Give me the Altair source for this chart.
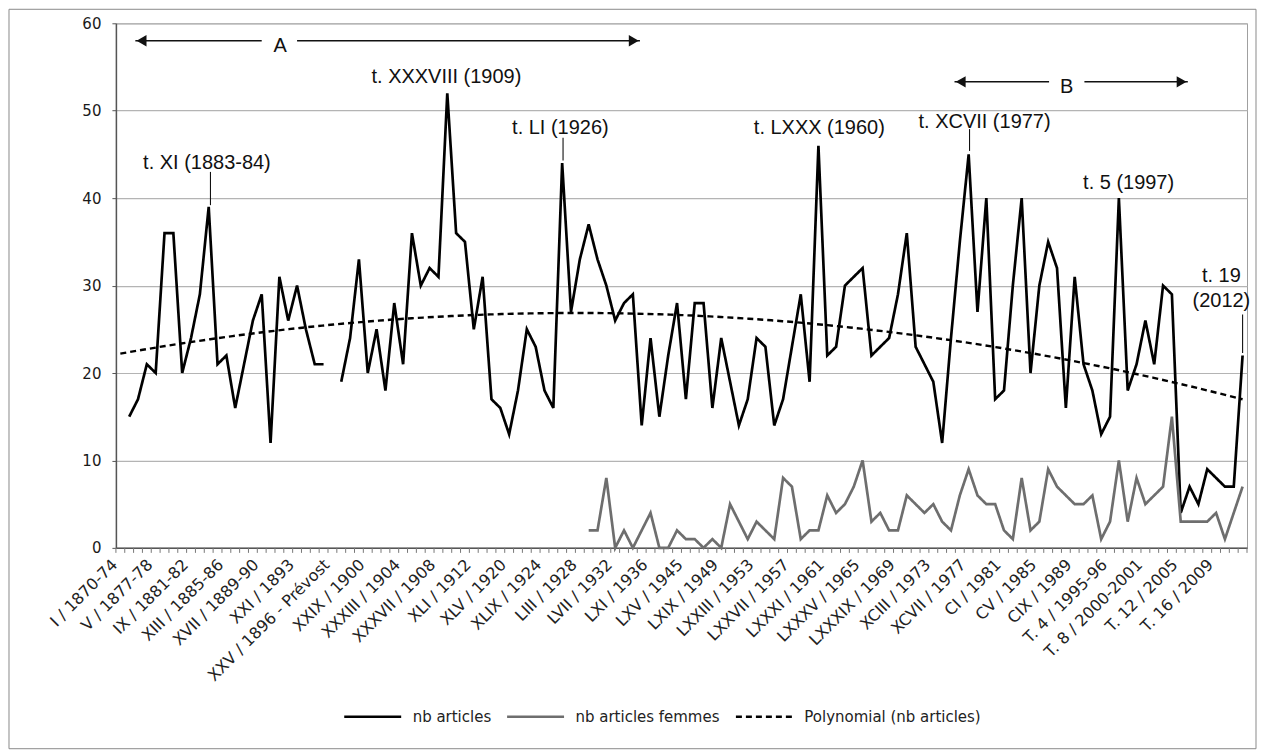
import json
import altair as alt
import pandas as pd

# ---------------- data ----------------
tick_labels = [
    "I / 1870-74", "V / 1877-78", "IX / 1881-82", "XIII / 1885-86", "XVII / 1889-90",
    "XXI / 1893", "XXV / 1896 - Prévost", "XXIX / 1900", "XXXIII / 1904", "XXXVII / 1908",
    "XLI / 1912", "XLV / 1920", "XLIX / 1924", "LIII / 1928", "LVII / 1932", "LXI / 1936",
    "LXV / 1945", "LXIX / 1949", "LXXIII / 1953", "LXXVII / 1957", "LXXXI / 1961",
    "LXXXV / 1965", "LXXXIX / 1969", "XCIII / 1973", "XCVII / 1977", "CI / 1981",
    "CV / 1985", "CIX / 1989", "T. 4 / 1995-96", "T. 8 / 2000-2001", "T. 12 / 2005",
    "T. 16 / 2009",
]

nb_articles = [
    None, 15, 17, 21, 20, 36, 36, 20, 24, 29, 39, 21, 22, 16, 21, 26, 29, 12, 31, 26, 30, 25, 21, 21,
    None, 19, 24, 33, 20, 25, 18, 28, 21, 36, 30, 32, 31, 52, 36, 35, 25, 31, 17, 16, 13, 18, 25, 23,
    18, 16, 44, 27, 33, 37, 33, 30, 26, 28, 29, 14, 24, 15, 22, 28, 17, 28, 28, 16, 24, 19, 14, 17,
    24, 23, 14, 17, 23, 29, 19, 46, 22, 23, 30, 31, 32, 22, 23, 24, 29, 36, 23, 21, 19, 12, 24, 35,
    45, 27, 40, 17, 18, 30, 40, 20, 30, 35, 32, 16, 31, 21, 18, 13, 15, 40, 18, 21, 26, 21, 30, 29,
    4, 7, 5, 9, 8, 7, 7, 22,
]

nb_femmes = [None] * 53 + [
    2, 2, 8, 0, 2, 0, 2, 4, 0, 0, 2, 1, 1, 0, 1, 0, 5, 3, 1, 3, 2, 1, 8, 7, 1, 2, 2, 6, 4, 5, 7,
    10, 3, 4, 2, 2, 6, 5, 4, 5, 3, 2, 6, 9, 6, 5, 5, 2, 1, 8, 2, 3, 9, 7, 6, 5, 5, 6, 1, 3, 10,
    3, 8, 5, 6, 7, 15, 3, 3, 3, 3, 4, 1, 4, 7,
]

series_names = ["nb articles", "nb articles femmes", "Polynomial (nb articles)"]
series_colors = ["#000000", "#6e6e6e", "#000000"]

ann_text = ["t. XI (1883-84)", "t. XXXVIII (1909)", "t. LI (1926)", "t. LXXX (1960)",
            "t. XCVII (1977)", "t. 5 (1997)", "t. 19", "(2012)"]
ann_x = [9.8, 36.9, 49.8, 79.1, 97.8, 114.1, 124.6, 124.6]
ann_y = [44.0, 53.9, 48.0, 48.0, 48.7, 41.7, 31.1, 28.2]

lead_x = [10.2, 50.1, 96.1, 127.0]
lead_y1 = [43.0, 46.9, 47.9, 26.7]
lead_y2 = [39.2, 44.3, 45.4, 22.3]

arrow_x1 = [1.7, 20.0, 94.4, 109.1]
arrow_x2 = [16.0, 58.8, 105.1, 120.8]
arrow_y = [58.0, 58.0, 53.3, 53.3]
head_x = [2.4, 58.1, 95.1, 120.1]
head_y = [58.0, 58.0, 53.3, 53.3]
head_dir = ["l", "r", "l", "r"]
letter_text = ["A", "B"]
letter_x = [18.1, 107.1]
letter_y = [57.4, 52.7]

# ---------------- frames ----------------
n = len(nb_articles)
rows = []
seg = 0
for i, v in enumerate(nb_articles):
    if v is None:
        seg += 1
    rows.append({"idx": i, "val": v, "series": series_names[0], "seg": f"a{seg}"})
for i, v in enumerate(nb_femmes):
    rows.append({"idx": i, "val": v, "series": series_names[1], "seg": "f"})
df = pd.DataFrame(rows)

W, H = 1132, 525
xs = alt.Scale(domain=[-0.5, n - 0.5], nice=False, zero=False)
ys = alt.Scale(domain=[0, 60], nice=False, zero=True)

label_expr = json.dumps(tick_labels, ensure_ascii=False) + "[round(datum.value / 4)]"
xaxis = alt.Axis(values=list(range(0, n, 4)), labelExpr=label_expr, labelAngle=-45,
                 labelAlign="right", labelBaseline="middle", labelPadding=14, labelOffset=-6,
                 ticks=False, grid=False, domain=True, domainColor="#555555", domainWidth=1.5,
                 labelFont="DejaVu Sans", labelFontSize=16, labelColor="#222222",
                 labelOverlap=False, labelFlush=False, labelLimit=400, title=None)
yaxis = alt.Axis(values=[0, 10, 20, 30, 40, 50, 60], grid=True, gridColor="#b4b4b4", gridWidth=1.2,
                 domain=True, domainColor="#555555", domainWidth=1.5, ticks=True, tickSize=4,
                 tickColor="#555555", labelFont="DejaVu Sans", labelFontSize=15,
                 labelColor="#1a1a1a", labelPadding=11, title=None)


def X(f):
    return alt.X(f, type="quantitative", scale=xs, axis=xaxis)


def Y(f):
    return alt.Y(f, type="quantitative", scale=ys, axis=yaxis)


legend = alt.Legend(orient="none", legendX=227, legendY=664, direction="horizontal", title=None,
                    symbolType="stroke", symbolSize=3249, symbolStrokeWidth=2.6,
                    labelFont="DejaVu Sans", labelFontSize=15, labelColor="#222222",
                    labelOffset=10, columnPadding=10, labelLimit=400)
color = alt.Color("series:N", scale=alt.Scale(domain=series_names, range=series_colors), legend=legend)
dash = alt.StrokeDash("series:N", scale=alt.Scale(domain=series_names, range=[[1, 0], [1, 0], [6, 4]]),
                      legend=legend)

frame = alt.Chart(pd.DataFrame({"k": [0]})).mark_rect(
    fill="white", fillOpacity=0, stroke="#8a8a8a", strokeWidth=1).encode(
    x=alt.value(-107), x2=alt.value(W + 9), y=alt.value(-14), y2=alt.value(H + 201))

lines = alt.Chart(df).transform_filter("isValid(datum.val)").mark_line(strokeWidth=2.7).encode(
    x=X("idx"), y=Y("val"), color=color, strokeDash=dash, detail="seg:N")

trend = alt.Chart(df).transform_filter(
    f"datum.series == '{series_names[0]}' && isValid(datum.val)"
).transform_regression("idx", "val", method="poly", order=2, extent=[0, n - 1]).transform_calculate(
    series=f"'{series_names[2]}'"
).mark_line(strokeWidth=2.4).encode(x=X("idx"), y=Y("val"), color=color, strokeDash=dash)

ticks = alt.Chart(pd.DataFrame({"b": [i - 0.5 for i in range(n + 1)]})).mark_rule(
    color="#777777", strokeWidth=1).encode(x=X("b"), y=alt.value(H), y2=alt.value(H + 5))

ann = alt.Chart(pd.DataFrame({"ax": ann_x, "ay": ann_y, "t": ann_text})).mark_text(
    font="Liberation Sans", fontSize=20, color="#111111", align="center", baseline="middle").encode(
    x=X("ax"), y=Y("ay"), text="t:N")

leads = alt.Chart(pd.DataFrame({"lx": lead_x, "ly1": lead_y1, "ly2": lead_y2})).mark_rule(
    color="#111111", strokeWidth=1.1).encode(x=X("lx"), y=Y("ly1"), y2="ly2")

arrows = alt.Chart(pd.DataFrame({"ax1": arrow_x1, "ax2": arrow_x2, "ay": arrow_y})).mark_rule(
    color="#111111", strokeWidth=1.5).encode(x=X("ax1"), x2="ax2", y=Y("ay"))

heads = alt.Chart(pd.DataFrame({"hx": head_x, "hy": head_y, "d": head_dir})).mark_point(
    filled=True, color="#111111", size=130, opacity=1).encode(
    x=X("hx"), y=Y("hy"),
    shape=alt.Shape("d:N", scale=alt.Scale(domain=["l", "r"], range=["triangle-left", "triangle-right"]),
                    legend=None))

letters = alt.Chart(pd.DataFrame({"lx": letter_x, "ly": letter_y, "t": letter_text})).mark_text(
    font="Liberation Sans", fontSize=20, color="#111111", align="center", baseline="middle").encode(
    x=X("lx"), y=Y("ly"), text="t:N")

chart = alt.layer(frame, ticks, lines, trend, leads, arrows, heads, ann, letters).properties(
    width=W, height=H, padding=0
).configure_view(stroke="#a0a0a0", strokeWidth=1)

chart.save("out.html", embed_options={"renderer": "svg", "actions": False})
